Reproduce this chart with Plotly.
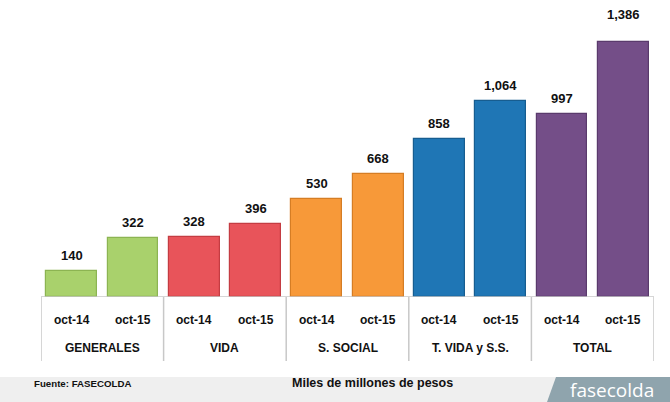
import plotly.graph_objects as go

groups = ["GENERALES", "VIDA", "S. SOCIAL", "T. VIDA y S.S.", "TOTAL"]
periods = ["oct-14", "oct-15"]
values = [140, 322, 328, 396, 530, 668, 858, 1064, 997, 1386]
group_colors = ["#a9d16c", "#e8545a", "#f79939", "#1f76b5", "#744e88"]
edge_colors = ["#8cb452", "#c43c42", "#d57d24", "#175d90", "#5a3a6c"]

W, H = 670, 402
L, R, T, B = 41, 16, 10, 105
pw, ph = W - L - R, H - T - B
base_py = T + ph

def px2x(px):
    return (px - L) / pw

def py2y(py):
    return (base_py - py) / ph

xs = list(range(len(values)))
bar_colors = [group_colors[i // 2] for i in xs]
bar_edges = [edge_colors[i // 2] for i in xs]

fig = go.Figure()
fig.add_trace(go.Bar(
    x=xs, y=values, width=0.83,
    marker=dict(color=bar_colors, line=dict(color=bar_edges, width=1.2)),
    hoverinfo="skip",
))

font_b = "Liberation Sans"
annotations = []
for i, v in enumerate(values):
    shift = 18 if i == len(values) - 1 else 6
    annotations.append(dict(x=i, y=v, xref="x", yref="y", text=f"<b>{v:,}</b>",
                            showarrow=False, yanchor="bottom", yshift=shift,
                            font=dict(family=font_b, size=13, color="#111")))
    annotations.append(dict(x=i, y=py2y(320), xref="x", yref="paper", text=f"<b>{periods[i % 2]}</b>",
                            showarrow=False, yanchor="middle",
                            font=dict(family=font_b, size=12, color="#111")))
for g, name in enumerate(groups):
    annotations.append(dict(x=2 * g + 0.5, y=py2y(348), xref="x", yref="paper", text=f"<b>{name}</b>",
                            showarrow=False, yanchor="middle",
                            font=dict(family=font_b, size=12, color="#111")))

shapes = []
# footer band
shapes.append(dict(type="rect", xref="paper", yref="paper", x0=px2x(0), x1=px2x(W),
                   y0=py2y(377), y1=py2y(H), fillcolor="#efefef", line=dict(width=0), layer="below"))
# logo parallelogram
shapes.append(dict(type="path", xref="paper", yref="paper",
                   path=f"M {px2x(547)} {py2y(H)} L {px2x(556)} {py2y(377)} L {px2x(W)} {py2y(377)} L {px2x(W)} {py2y(H)} Z",
                   fillcolor="#8fa4ad", line=dict(width=0)))
# baseline
shapes.append(dict(type="line", xref="x", yref="y", x0=-0.5, x1=len(values) - 0.5, y0=0, y1=0,
                   line=dict(color="#c8c8c8", width=1.5)))
# group dividers
for k in range(len(groups) + 1):
    xk = 2 * k - 0.5
    shapes.append(dict(type="line", xref="x", yref="paper", x0=xk, x1=xk, y0=0, y1=py2y(361),
                       line=dict(color="#c8c8c8", width=1.5)))

annotations.append(dict(x=px2x(32), y=py2y(383), xref="paper", yref="paper", text="<b>Fuente: FASECOLDA</b>",
                        showarrow=False, xanchor="left", yanchor="middle",
                        font=dict(family=font_b, size=9.7, color="#111")))
annotations.append(dict(x=px2x(372), y=py2y(383), xref="paper", yref="paper", text="<b>Miles de millones de pesos</b>",
                        showarrow=False, xanchor="center", yanchor="middle",
                        font=dict(family=font_b, size=12.5, color="#111")))
annotations.append(dict(x=px2x(612), y=py2y(390), xref="paper", yref="paper", text="fasecolda",
                        showarrow=False, xanchor="center", yanchor="middle",
                        font=dict(family="Open Sans", size=19, color="white")))

fig.update_layout(
    width=W, height=H,
    margin=dict(l=L, r=R, t=T, b=B),
    paper_bgcolor="white", plot_bgcolor="white",
    showlegend=False,
    xaxis=dict(range=[-0.5, len(values) - 0.5], showticklabels=False, showgrid=False, zeroline=False, showline=False, ticks="", fixedrange=True),
    yaxis=dict(range=[0, 1560], showticklabels=False, showgrid=False, zeroline=False, showline=False, ticks="", fixedrange=True),
    annotations=annotations,
    shapes=shapes,
    bargap=0,
)
fig.write_html("out.html", config={"displayModeBar": False})

with open("out.html", "r", encoding="utf-8") as f:
    html = f.read()
html = html.replace("<head>", "<head><style>html,body{margin:0;padding:0;overflow:hidden;}</style>", 1)
with open("out.html", "w", encoding="utf-8") as f:
    f.write(html)
